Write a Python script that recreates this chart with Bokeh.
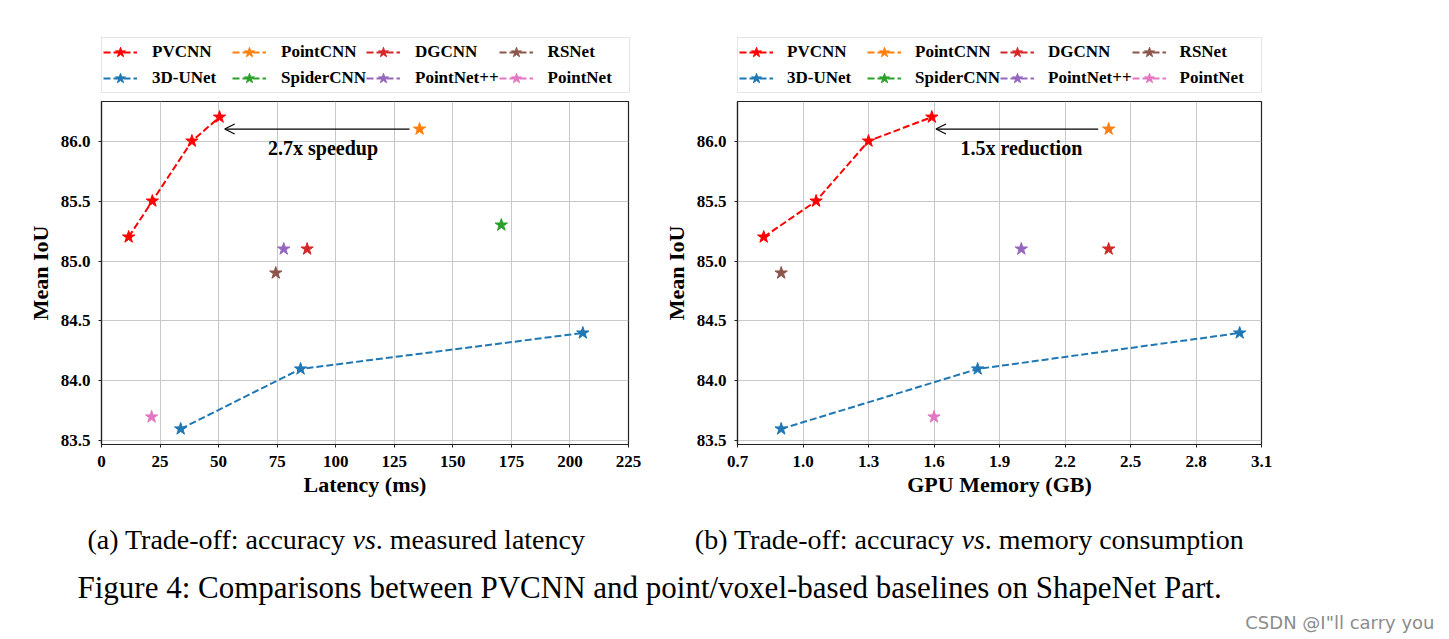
from bokeh.plotting import figure
from bokeh.models import (Range1d, FixedTicker, PrintfTickFormatter, Legend, LegendItem,
                          Arrow, OpenHead, Label, ColumnDataSource)
from bokeh.layouts import row, column
from bokeh.embed import file_html
from bokeh.resources import INLINE

# ---------------- data ----------------
legend_order = ["PVCNN", "PointCNN", "DGCNN", "RSNet",
                "3D-UNet", "SpiderCNN", "PointNet++", "PointNet"]
method_colors = ["#ff0000", "#ff7f0e", "#d62728", "#8c564b",
                 "#1f77b4", "#2ca02c", "#9467bd", "#e377c2"]

pvcnn_latency = [11.6, 21.7, 38.6, 50.4]
pvcnn_memory = [0.82, 1.06, 1.30, 1.59]
pvcnn_miou = [85.2, 85.5, 86.0, 86.2]

unet_latency = [33.8, 85.0, 205.5]
unet_memory = [0.90, 1.80, 3.00]
unet_miou = [83.6, 84.1, 84.4]

baseline_names = ["PointCNN", "DGCNN", "RSNet", "SpiderCNN", "PointNet++", "PointNet"]
baseline_latency = [135.8, 87.8, 74.4, 170.7, 77.8, 21.4]
baseline_memory = [2.40, 2.40, 0.90, None, 2.00, 1.60]   # SpiderCNN not shown
baseline_miou = [86.1, 85.1, 84.9, 85.3, 85.1, 83.7]

latency_ticks = [0, 25, 50, 75, 100, 125, 150, 175, 200, 225]
memory_ticks = [0.7, 1.0, 1.3, 1.6, 1.9, 2.2, 2.5, 2.8, 3.1]
miou_ticks = [83.5, 84.0, 84.5, 85.0, 85.5, 86.0]

latency_range = (0, 225)
memory_range = (0.7, 3.1)
miou_range = (83.47, 86.33)

# annotation: arrow (x_start, x_end, y) and text (label, x, y)
speedup_arrow = (131.5, 52.6, 86.1)
speedup_text = ("2.7x speedup", 94.6, 85.945)
reduction_arrow = (2.352, 1.609, 86.1)
reduction_text = ("1.5x reduction", 2.0, 85.945)

caption_a = ["(a) Trade-off: accuracy", "vs", ". measured latency"]
caption_b = ["(b) Trade-off: accuracy", "vs", ". memory consumption"]
figure_caption = "Figure 4: Comparisons between PVCNN and point/voxel-based baselines on ShapeNet Part."
watermark = "CSDN @I\"ll carry you"

SERIF = "Liberation Serif"
FRAME_H = 343
LEG_H = 96
PLOT_H = 410
CAP_H = 130
TOTAL_W = 1441


def series_for(xkey):
    out = {}
    out["PVCNN"] = (pvcnn_latency if xkey == "lat" else pvcnn_memory, pvcnn_miou)
    out["3D-UNet"] = (unet_latency if xkey == "lat" else unet_memory, unet_miou)
    xs_all = baseline_latency if xkey == "lat" else baseline_memory
    for n, xv, yv in zip(baseline_names, xs_all, baseline_miou):
        if xv is None:
            out[n] = ([], [])
        else:
            out[n] = ([xv], [yv])
    return out


def style_series(p, name, col, src):
    lr = p.line("x", "y", source=src, line_color=col, line_width=2, line_dash="7 3")
    sr = p.scatter("x", "y", source=src, marker="star", size=13,
                   fill_color=col, line_color=col)
    return lr, sr


def make_panel(xkey, xr, xticks, xfmt, xlabel, width, bl, br, arrow, text):
    p = figure(width=width, height=PLOT_H, x_range=Range1d(*xr), y_range=Range1d(*miou_range),
               toolbar_location=None, output_backend="svg",
               min_border_left=bl, min_border_right=br, min_border_top=5,
               min_border_bottom=PLOT_H - 5 - FRAME_H)
    p.background_fill_color = "white"
    p.border_fill_color = "white"
    p.outline_line_color = "#222222"
    p.outline_line_width = 1.2

    p.xaxis.ticker = FixedTicker(ticks=xticks, minor_ticks=[])
    p.yaxis.ticker = FixedTicker(ticks=miou_ticks, minor_ticks=[])
    p.xaxis.formatter = PrintfTickFormatter(format=xfmt)
    p.yaxis.formatter = PrintfTickFormatter(format="%.1f")
    for ax in (p.xaxis[0], p.yaxis[0]):
        ax.major_label_text_font = SERIF
        ax.major_label_text_font_style = "bold"
        ax.major_label_text_font_size = "17px"
        ax.major_label_text_color = "black"
        ax.axis_label_text_font = SERIF
        ax.axis_label_text_font_style = "bold"
        ax.axis_label_text_font_size = "22px"
        ax.axis_label_text_color = "black"
        ax.axis_line_color = "#222222"
        ax.axis_line_width = 1.2
        ax.major_tick_in = 0
        ax.major_tick_out = 3
        ax.major_tick_line_color = "#222222"
        ax.minor_tick_out = 0
        ax.minor_tick_in = 0
    p.xaxis.axis_label = xlabel
    p.yaxis.axis_label = "Mean IoU"
    p.xaxis.major_label_standoff = 8
    p.yaxis.major_label_standoff = 8
    p.xaxis.axis_label_standoff = 2
    p.yaxis.axis_label_standoff = 5
    p.grid.grid_line_color = "#c8c8c8"
    p.grid.grid_line_width = 1

    data = series_for(xkey)
    for name, col in zip(legend_order, method_colors):
        xs, ys = data[name]
        src = ColumnDataSource(dict(x=xs, y=ys))
        style_series(p, name, col, src)

    xs0, xs1, ya = arrow
    p.add_layout(Arrow(end=OpenHead(size=10, line_color="black", line_width=1.2),
                       x_start=xs0, y_start=ya, x_end=xs1, y_end=ya,
                       line_color="black", line_width=1.2))
    t, tx, ty = text
    p.add_layout(Label(x=tx, y=ty, text=t, text_align="center", text_baseline="alphabetic",
                       text_font=SERIF, text_font_style="bold", text_font_size="20px",
                       text_color="black"))
    return p


p1 = make_panel("lat", latency_range, latency_ticks, "%d", "Latency (ms)",
                660, 101, 32, speedup_arrow, speedup_text)
p2 = make_panel("mem", memory_range, memory_ticks, "%.1f", "GPU Memory (GB)",
                781, 77, 180, reduction_arrow, reduction_text)

# ---- legend strip (pixel coordinates) ----
pl = figure(width=TOTAL_W, height=LEG_H, x_range=Range1d(0, 1), y_range=Range1d(0, 1),
            x_axis_type=None, y_axis_type=None, toolbar_location=None, output_backend="svg",
            min_border=0)
pl.outline_line_color = None
pl.background_fill_color = "white"
pl.border_fill_color = "white"
pl.grid.visible = False
leg_renderers = []
for name, col in zip(legend_order, method_colors):
    src = ColumnDataSource(dict(x=[float("nan")], y=[float("nan")]))
    leg_renderers.append(style_series(pl, name, col, src))


def add_legend(x0, standoff):
    items = [LegendItem(label=n, renderers=list(r)) for n, r in zip(legend_order, leg_renderers)]
    lg = Legend(items=items, ncols=4, orientation="horizontal",
                location=(x0, LEG_H - 93),
                glyph_width=34, glyph_height=26, label_standoff=standoff, label_width=80,
                label_height=20, padding=1, spacing=0, margin=0,
                border_line_color="#cccccc", border_line_width=1,
                background_fill_color="white", background_fill_alpha=0.8,
                label_text_font=SERIF, label_text_font_style="bold",
                label_text_font_size="17px", label_text_color="black")
    pl.add_layout(lg)

add_legend(101, 15)
add_legend(737, 14)

# ---- caption strip (coordinates = screen pixels) ----
top = LEG_H + PLOT_H
p3 = figure(width=TOTAL_W, height=CAP_H, x_range=Range1d(0, TOTAL_W),
            y_range=Range1d(top + CAP_H, top),
            x_axis_type=None, y_axis_type=None, toolbar_location=None, output_backend="svg",
            min_border=0)
p3.outline_line_color = None
p3.background_fill_color = "white"
p3.border_fill_color = "white"
p3.grid.visible = False

CAP_FS = 28
def add_caption(parts, x_vs, y):
    space = 0.25 * CAP_FS
    vs_w = 0.833 * CAP_FS
    p3.add_layout(Label(x=x_vs - space, y=y, text=parts[0], text_align="right",
                        text_baseline="alphabetic", text_font=SERIF,
                        text_font_size=f"{CAP_FS}px", text_color="black"))
    p3.add_layout(Label(x=x_vs, y=y, text=parts[1], text_align="left",
                        text_baseline="alphabetic", text_font=SERIF, text_font_style="italic",
                        text_font_size=f"{CAP_FS}px", text_color="black"))
    p3.add_layout(Label(x=x_vs + vs_w, y=y, text=parts[2], text_align="left",
                        text_baseline="alphabetic", text_font=SERIF,
                        text_font_size=f"{CAP_FS}px", text_color="black"))

add_caption(caption_a, 352, 539.3)
add_caption(caption_b, 961, 539.3)
p3.add_layout(Label(x=77, y=587.3, text=figure_caption, text_align="left",
                    text_baseline="alphabetic", text_font=SERIF, text_font_size="31px",
                    text_color="black"))
p3.add_layout(Label(x=1434, y=622, text=watermark, text_align="right",
                    text_baseline="alphabetic", text_font="DejaVu Sans", text_font_size="18px",
                    text_color="#8c8c8c"))

layout = column(pl, row(p1, p2), p3)
open("out.html", "w").write(file_html(layout, INLINE))
